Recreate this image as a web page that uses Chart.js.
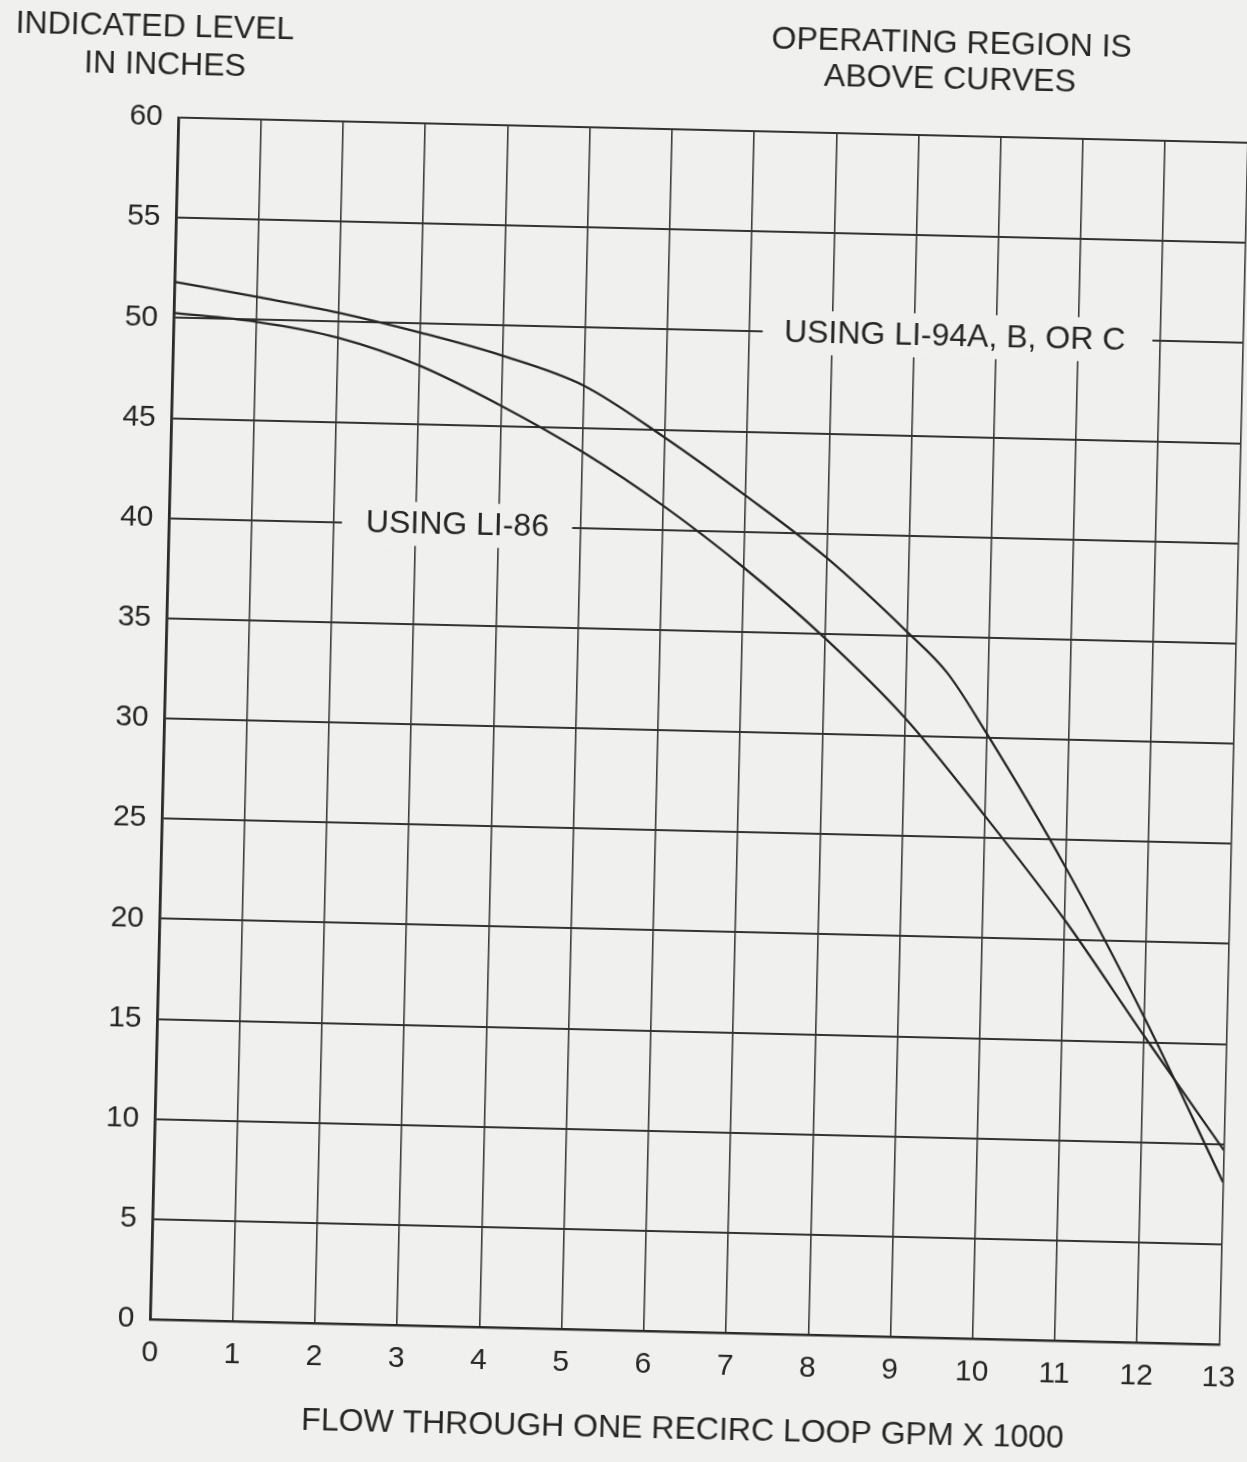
<!DOCTYPE html>
<html><head><meta charset="utf-8">
<script src="https://cdn.jsdelivr.net/npm/chart.js@4.4.1/dist/chart.umd.min.js"></script>
<style>
html,body{margin:0;padding:0;background:#f0f0ee;overflow:hidden;width:1247px;height:1462px;}
#wrap{position:absolute;left:0;top:0;width:1290px;height:1462px;transform-origin:699px 731px;transform:rotate(1.35deg);}
canvas{display:block;}
</style></head><body>
<div id="wrap"><canvas id="c" width="1290" height="1462"></canvas></div>
<script>
// ---- data ----
const flowTicks = [0,1,2,3,4,5,6,7,8,9,10,11,12,13];
const levelTicks = [0,5,10,15,20,25,30,35,40,45,50,55,60];
const li94Flow  = [0,1,2,3,4,5,6,7,8,9,9.5,10,11,12,13];
const li94Level = [51.8,51.15,50.45,49.55,48.5,47.1,44.6,41.8,38.8,35.2,33.2,30.2,23.6,16.2,8.1];
const li86Flow  = [0,1,2,3,4,5,6,7,8,9,10,11,12,13];
const li86Level = [50.25,49.9,49.2,47.9,46.0,43.8,41.2,38.2,34.8,30.9,26.1,21.0,15.3,9.7];
const xAxisTitle = 'FLOW THROUGH ONE RECIRC LOOP GPM X 1000';
const yAxisTitle = ['INDICATED LEVEL', 'IN INCHES'];
const noteTitle = ['OPERATING REGION IS', 'ABOVE CURVES'];
const curveLabels = ['USING LI-94A, B, OR C', 'USING LI-86'];

// ---- styling / layout ----
const BG = '#f0f0ee';
const INK = '#262626';
const FONT = '"Liberation Sans", Arial, Helvetica, sans-serif';
const labelBoxes = [
  {text: curveLabels[0], from: 7.16, to: 11.9, level: 50, textX: 7.42},
  {text: curveLabels[1], from: 2.1, to: 4.9, level: 40, textX: 2.39}
];

const toPts = (xs, ys) => xs.map((x, i) => ({x: x, y: ys[i]}));

const labelPlugin = {
  id: 'labels',
  beforeDatasetsDraw(chart) {
    const {ctx, scales: {x, y}} = chart;
    ctx.save();
    labelBoxes.forEach(b => {
      const x0 = x.getPixelForValue(b.from), x1 = x.getPixelForValue(b.to);
      const yc = y.getPixelForValue(b.level);
      ctx.fillStyle = BG;
      ctx.fillRect(x0, yc - 22, x1 - x0, 44);
      ctx.fillStyle = INK;
      ctx.font = '32px ' + FONT;
      ctx.textAlign = 'left';
      ctx.textBaseline = 'middle';
      ctx.fillText(b.text, x.getPixelForValue(b.textX), yc + 1);
    });
    ctx.restore();
  },
  afterDraw(chart) {
    const {ctx, chartArea: a} = chart;
    ctx.save();
    ctx.fillStyle = INK;
    ctx.font = '32px ' + FONT;
    ctx.textAlign = 'center';
    ctx.textBaseline = 'middle';
    ctx.fillText(yAxisTitle[0], a.left - 26, a.top - 90);
    ctx.fillText(yAxisTitle[1], a.left - 15, a.top - 52);
    ctx.fillText(noteTitle[0], a.left + 771, a.top - 92);
    ctx.fillText(noteTitle[1], a.left + 770, a.top - 56);
    ctx.restore();
  }
};

new Chart(document.getElementById('c'), {
  type: 'scatter',
  data: {
    datasets: [
      {label: curveLabels[0], data: toPts(li94Flow, li94Level), showLine: true,
       borderColor: INK, borderWidth: 2.3, pointRadius: 0, cubicInterpolationMode: 'monotone', fill: false},
      {label: curveLabels[1], data: toPts(li86Flow, li86Level), showLine: true,
       borderColor: INK, borderWidth: 2.3, pointRadius: 0, cubicInterpolationMode: 'monotone', fill: false}
    ]
  },
  options: {
    responsive: false,
    animation: false,
    devicePixelRatio: 1,
    layout: {padding: {left: 0, right: 56.5, top: 130, bottom: 0}},
    plugins: {legend: {display: false}, tooltip: {enabled: false}, title: {display: false}},
    scales: {
      x: {
        type: 'linear', min: 0, max: 13,
        afterBuildTicks: s => { s.ticks = flowTicks.map(v => ({value: v})); },
        afterFit: s => { s.height = 130; s.paddingLeft = 0; s.paddingRight = 0; },
        grid: {color: '#3c3c3c', lineWidth: 1.6, drawTicks: false},
        border: {display: true, color: '#2a2a2a', width: 2.6},
        ticks: {color: INK, font: {family: FONT, size: 30}, padding: 16, maxRotation: 0, autoSkip: false},
        title: {display: true, text: xAxisTitle, color: INK, font: {family: FONT, size: 32}, padding: {top: 0, bottom: 13}}
      },
      y: {
        type: 'linear', min: 0, max: 60,
        afterBuildTicks: s => { s.ticks = levelTicks.map(v => ({value: v})); },
        afterFit: s => { s.width = 164.5; s.paddingTop = 0; s.paddingBottom = 0; },
        grid: {color: '#333333', lineWidth: 2, drawTicks: false},
        border: {display: true, color: '#2a2a2a', width: 2.6},
        ticks: {color: INK, font: {family: FONT, size: 30}, padding: 16, autoSkip: false}
      }
    }
  },
  plugins: [labelPlugin]
});
</script>
</body></html>
